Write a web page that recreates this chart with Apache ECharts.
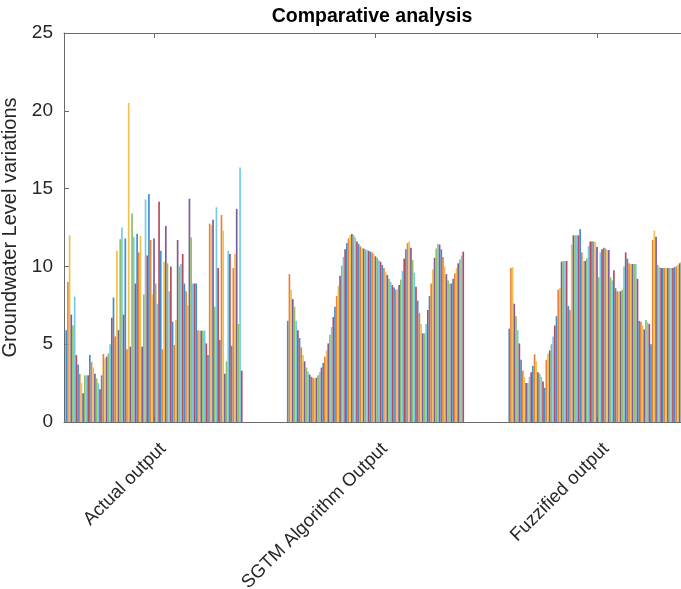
<!DOCTYPE html>
<html><head><meta charset="utf-8">
<script src="https://cdn.jsdelivr.net/npm/echarts@6/dist/echarts.min.js"></script>
<style>html,body{margin:0;padding:0;background:#fff}#c{width:681px;height:589px}</style>
</head><body><div id="c"></div>
<script>
const categories = ['Actual output', 'SGTM Algorithm Output', 'Fuzzified output'];
const categoryPositions = [1, 2, 3];
const yTicks = [0, 5, 10, 15, 20, 25];

const actualOutput = [
  5.9, 9.0, 12.0, 6.9, 6.2, 8.05, 4.3, 3.7, 3.1, 2.5,
  1.85, 3.0, 3.0, 3.0, 4.3, 3.85, 3.5, 3.1, 2.8, 2.5,
  2.1, 3.0, 4.37, 4.1, 4.2, 4.4, 5.0, 6.7, 8.0, 5.5,
  11.0, 5.9, 11.75, 12.5, 6.9, 11.8, 4.67, 20.5, 4.84, 13.4,
  11.9, 8.9, 12.1, 10.9, 11.95, 4.84, 8.2, 14.3, 10.7, 14.65,
  11.7, 8.2, 11.8, 8.9, 7.6, 14.15, 11.0, 4.67, 10.3, 12.6,
  10.2, 8.4, 10.0, 6.45, 4.95, 6.55, 11.7, 10.0, 10.15, 10.8,
  8.9, 8.4, 7.5, 14.35, 11.85, 8.9, 8.9, 8.9, 5.9, 5.87,
  5.87, 5.87, 5.87, 5.05, 4.3, 12.75, 12.65, 13.0, 7.4, 13.8,
  9.9, 5.27, 13.3, 12.3, 3.1, 3.9, 11.0, 10.8, 4.9, 9.9,
  10.8, 13.7, 6.3, 16.35, 3.3
];
const sgtmOutput = [
  6.5, 9.5, 8.5, 7.9, 7.4, 6.5, 5.9, 5.4, 4.8, 4.3,
  3.9, 3.5, 3.25, 3.05, 2.9, 2.85, 2.8, 2.85, 3.0, 3.2,
  3.5, 3.8, 4.2, 4.6, 5.05, 5.6, 6.1, 6.75, 7.4, 8.1,
  8.75, 9.4, 10.05, 10.6, 11.1, 11.5, 11.8, 12.0, 12.08, 12.0,
  11.85, 11.6, 11.45, 11.3, 11.2, 11.15, 11.1, 11.05, 11.0, 10.95,
  10.9, 10.8, 10.65, 10.55, 10.4, 10.3, 10.1, 9.9, 9.65, 9.45,
  9.2, 9.0, 8.8, 8.65, 8.5, 8.55, 8.8, 9.15, 9.7, 10.5,
  11.1, 11.5, 11.6, 11.2, 10.4, 9.6, 8.7, 7.8, 7.0, 6.3,
  5.7, 5.7, 6.3, 7.2, 8.1, 8.9, 9.8, 10.55, 11.15, 11.45,
  11.4, 11.1, 10.6, 10.0, 9.5, 9.1, 8.9, 8.9, 9.2, 9.55,
  9.9, 10.2, 10.45, 10.7, 10.95
];
const fuzzifiedOutput = [
  6.0, 9.9, 9.95, 7.6, 6.8, 5.9, 5.05, 4.0, 3.3, 2.9,
  2.5, 2.5, 2.9, 3.2, 3.6, 4.35, 3.9, 3.2, 3.1, 2.9,
  2.6, 2.2, 4.0, 4.4, 4.6, 5.0, 5.5, 6.2, 6.8, 8.5,
  8.6, 10.3, 10.35, 10.35, 10.35, 7.45, 7.2, 11.4, 12.0, 12.0,
  12.0, 12.0, 12.4, 10.9, 10.35, 10.35, 10.5, 11.3, 11.6, 11.6,
  11.6, 11.55, 11.25, 9.3, 10.9, 11.1, 11.2, 11.15, 11.05, 11.05,
  9.3, 9.1, 9.75, 8.6, 8.4, 8.4, 8.4, 8.5, 10.0, 10.9,
  10.5, 10.2, 10.15, 10.15, 10.15, 10.15, 9.2, 6.5, 6.45, 6.2,
  5.95, 6.55, 6.4, 6.3, 5.0, 11.7, 12.3, 11.9, 10.1, 9.95,
  9.9, 9.9, 9.9, 9.9, 9.9, 9.9, 9.9, 9.9, 9.95, 10.0,
  10.1, 10.2, 10.3, 10.3, 10.3
];

const colors = ['#3d8fd1', '#e8823a', '#f0c050', '#7e5a9e', '#8cc060', '#72cbe8', '#b84a5e'];
const FONT = 'Liberation Sans, Arial, Helvetica, sans-serif';
const AXIS_COLOR = '#6a6a6a';
const TEXT_COLOR = '#262626';

const series = [];
for (let i = 0; i < actualOutput.length; i++) {
  series.push({
    type: 'bar',
    name: 'S' + (i + 1),
    data: [
      [categoryPositions[0], actualOutput[i]],
      [categoryPositions[1], sgtmOutput[i]],
      [categoryPositions[2], fuzzifiedOutput[i]]
    ],
    itemStyle: { color: colors[i % colors.length] },
    barGap: '0%',
    barCategoryGap: '20%',
    silent: true
  });
}

const chart = echarts.init(document.getElementById('c'), null, { renderer: 'canvas' });
const xCommon = {
  type: 'value',
  min: 0.5937,
  max: 3.4063,
  axisLine: { show: true, lineStyle: { color: AXIS_COLOR, width: 1 } },
  axisTick: { show: true, inside: true, length: 5, customValues: categoryPositions, lineStyle: { color: AXIS_COLOR } },
  axisLabel: { show: false },
  splitLine: { show: false }
};
chart.setOption({
  animation: false,
  backgroundColor: '#ffffff',
  title: {
    text: 'Comparative analysis',
    left: 367,
    textAlign: 'center',
    top: 2,
    textStyle: { fontFamily: FONT, fontWeight: 'bold', fontSize: 19.5, color: '#000' }
  },
  grid: { left: 64, right: -6, top: 33, bottom: 167, containLabel: false, outerBoundsMode: 'none' },
  xAxis: [
    Object.assign({ position: 'bottom' }, xCommon),
    Object.assign({ position: 'top' }, xCommon)
  ],
  yAxis: {
    type: 'value',
    min: yTicks[0],
    max: yTicks[yTicks.length - 1],
    interval: 5,
    name: 'Groundwater Level variations',
    nameLocation: 'middle',
    nameGap: 37,
    nameTextStyle: { fontFamily: FONT, fontSize: 20, color: TEXT_COLOR },
    axisLine: { show: true, lineStyle: { color: AXIS_COLOR, width: 1 } },
    axisTick: { show: true, inside: true, length: 5, lineStyle: { color: AXIS_COLOR } },
    axisLabel: { fontFamily: FONT, fontSize: 19, color: TEXT_COLOR, margin: 11 },
    splitLine: { show: false }
  },
  series: series
});

const labelY = chart.convertToPixel({ yAxisIndex: 0 }, 0) + 24;
chart.setOption({
  graphic: categories.map(function (name, k) {
    const px = chart.convertToPixel({ xAxisIndex: 0 }, categoryPositions[k]);
    return {
      type: 'text',
      x: px + 9,
      y: labelY,
      rotation: Math.PI / 4,
      style: {
        text: name,
        fontFamily: FONT,
        fontSize: 18.5,
        fill: TEXT_COLOR,
        textAlign: 'right',
        textVerticalAlign: 'middle'
      }
    };
  })
});
</script>
</body></html>
